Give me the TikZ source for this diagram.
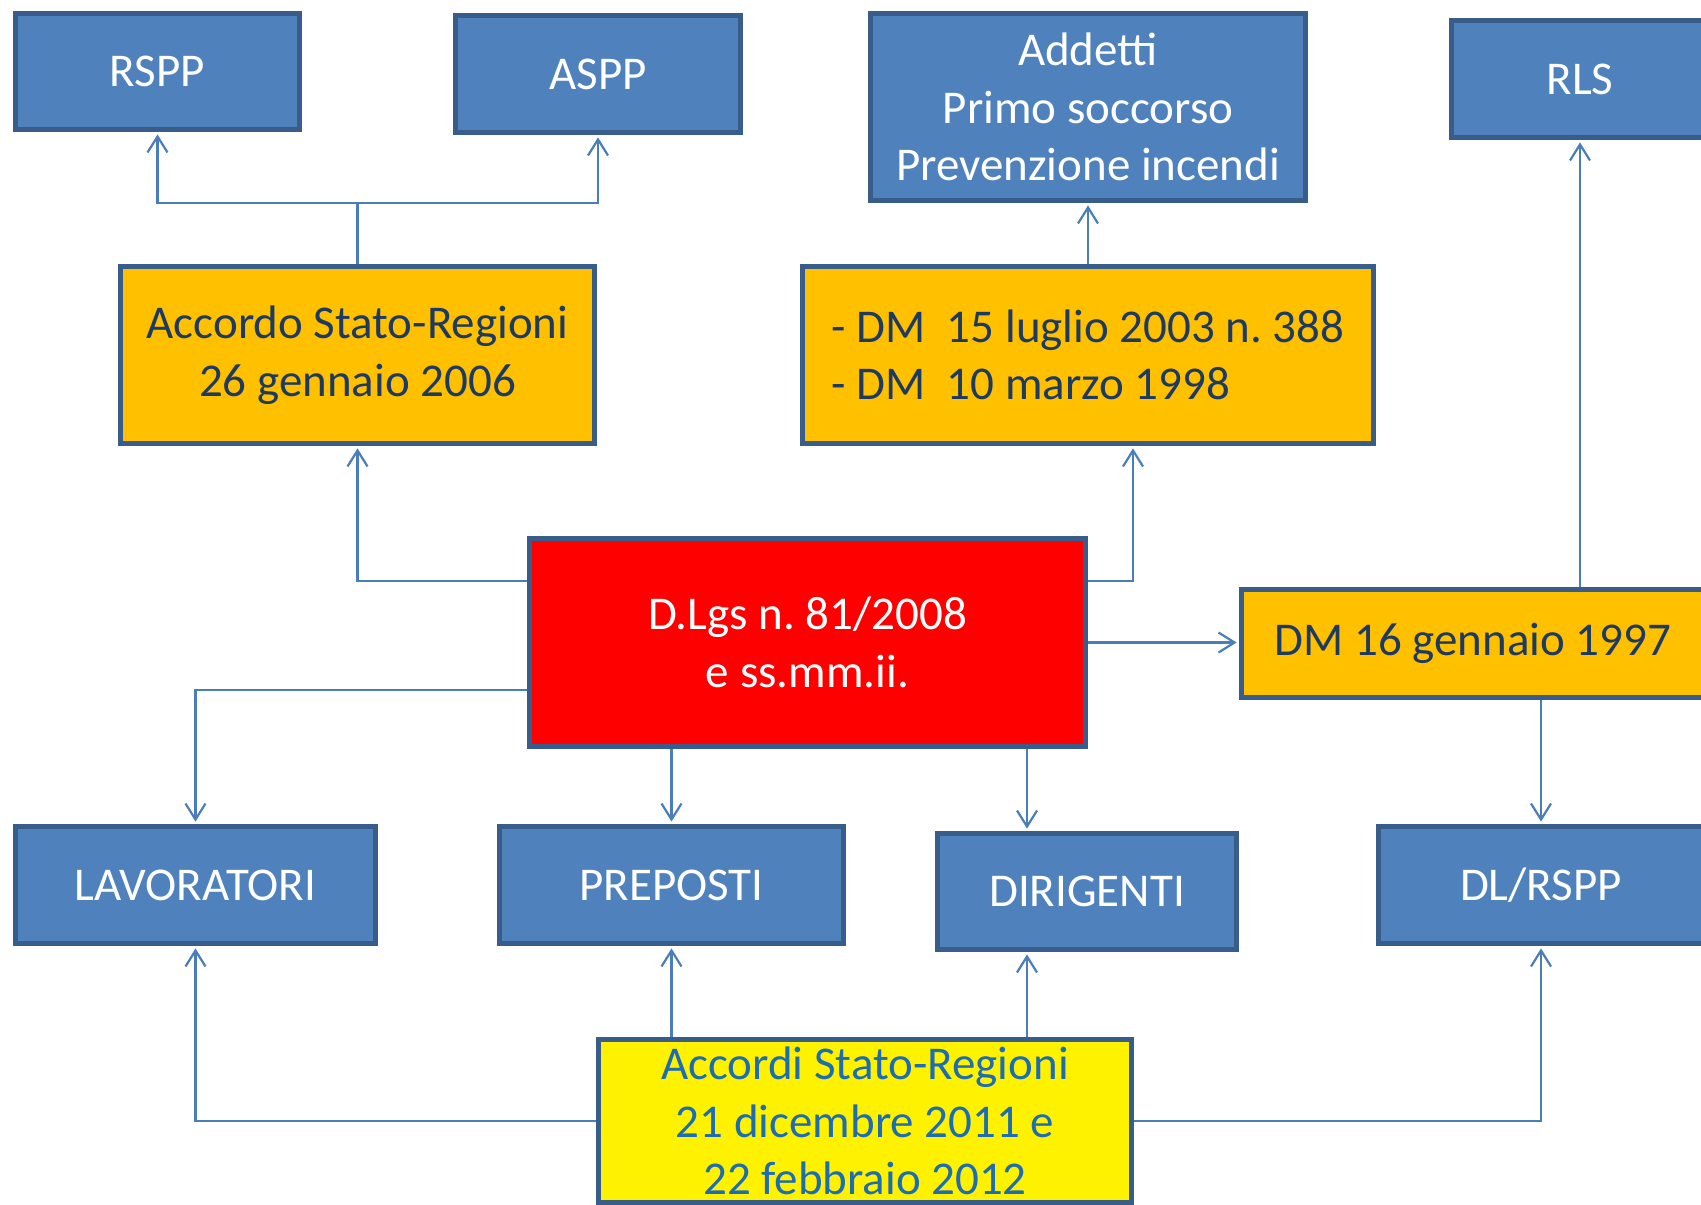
\documentclass[tikz,border=0pt]{standalone}
\usepackage{fontspec}
\setmainfont{Carlito}
\usepackage{tikz}
\usetikzlibrary{arrows.meta}
\usetikzlibrary{calc}
\definecolor{boxblue}{HTML}{4F81BD}
\definecolor{boxedge}{HTML}{385D8A}
\definecolor{lineblue}{HTML}{4A7EBB}
\definecolor{boxorange}{HTML}{FFC000}
\definecolor{textnavy}{HTML}{1F3A60}
\definecolor{textblue}{HTML}{1C6DB4}
\tikzstyle{nodebox} = [draw=boxedge,line width=2.5pt,align=center,inner sep=0pt,font=\fontsize{23.5}{28.8}\selectfont\frenchspacing]
\tikzstyle{bluebox} = [nodebox,fill=boxblue,text=white]
\tikzstyle{orangebox} = [nodebox,fill=boxorange,text=textnavy]
\tikzstyle{redbox} = [nodebox,fill=red,text=white]
\tikzstyle{yellowbox} = [nodebox,fill=yellow,text=textblue]
\tikzstyle{link} = [draw=lineblue,line width=1.1pt]
\tikzstyle{arrow} = [link,-{Straight Barb[length=8pt,width=10pt]},shorten >=1.2pt]

\begin{document}
\begin{tikzpicture}[x=0.5pt,y=-0.5pt]
\useasboundingbox (0,0) rectangle (1701,1204);
\clip (0,0) rectangle (1701,1204);

\node[bluebox,minimum width=142pt,minimum height=58pt] (rspp) at (157.5,71.5) {RSPP};
\node[bluebox,minimum width=142.5pt,minimum height=58.5pt] (aspp) at (598,74) {ASPP};
\node[bluebox,minimum width=217.5pt,minimum height=93.5pt] (addetti) at (1088,107) {Addetti\\Primo soccorso\\Prevenzione incendi};
\node[bluebox,minimum width=128.5pt,minimum height=58.5pt] (rls) at (1580,79) {RLS};

\node[orangebox,minimum width=237pt,minimum height=88.5pt] (acc2006) at (357.5,355) {Accordo Stato-Regioni\\26 gennaio 2006};
\node[orangebox,minimum width=285.5pt,minimum height=88.5pt,align=left] (dm2003) at (1088,355) {- DM\ \ 15 luglio 2003 n. 388\\- DM\ \ 10 marzo 1998};

\node[redbox,minimum width=278pt,minimum height=104pt] (dlgs) at (807.5,642.5) {D.Lgs n. 81/2008\\e ss.mm.ii.};
\node[orangebox,minimum width=231.5pt,minimum height=54pt] (dm1997) at (1473,643.5) {DM 16 gennaio 1997};

\node[bluebox,minimum width=180pt,minimum height=58.5pt] (lav) at (195.5,885) {LAVORATORI};
\node[bluebox,minimum width=172pt,minimum height=58.5pt] (prep) at (671.5,885) {PREPOSTI};
\node[bluebox,minimum width=149.5pt,minimum height=58pt] (dir) at (1087,891.5) {DIRIGENTI};
\node[bluebox,minimum width=162.5pt,minimum height=58.5pt] (dlrspp) at (1541,885) {DL/RSPP};

\node[yellowbox,minimum width=266.5pt,minimum height=81.5pt] (yel) at (865,1121) {Accordi Stato-Regioni\\21 dicembre 2011 e\\22 febbraio 2012};

\coordinate (fork) at (357.5,203);
\coordinate (dmcol) at (1133,0);
\coordinate (dircol) at (1027,0);

\draw[link] (acc2006.north) -- (fork);
\draw[arrow] (fork) -| (rspp.south);
\draw[arrow] (fork) -| (aspp.south);
\draw[arrow] ($(dlgs.north west)+(0,45)$) -| (acc2006.south);
\draw[arrow] ($(dlgs.north east)+(0,45)$) -| (dm2003.south -| dmcol);
\draw[arrow] (dm2003.north) -- (addetti.south);
\draw[arrow] (dlgs.east) -- (dlgs.east -| dm1997.west);
\draw[arrow] (dm1997.north -| rls.south) -- (rls.south);
\draw[arrow] (dm1997.south -| dlrspp.north) -- (dlrspp.north);
\draw[arrow] ($(dlgs.south west)+(0,-59)$) -| (lav.north);
\draw[arrow] (dlgs.south -| prep.north) -- (prep.north);
\draw[arrow] (dlgs.south -| dircol) -- (dir.north -| dircol);
\draw[arrow] (yel.west) -| (lav.south);
\draw[arrow] (yel.north -| prep.south) -- (prep.south);
\draw[arrow] (yel.north -| dircol) -- (dir.south -| dircol);
\draw[arrow] (yel.east) -| (dlrspp.south);
\end{tikzpicture}
\end{document}
